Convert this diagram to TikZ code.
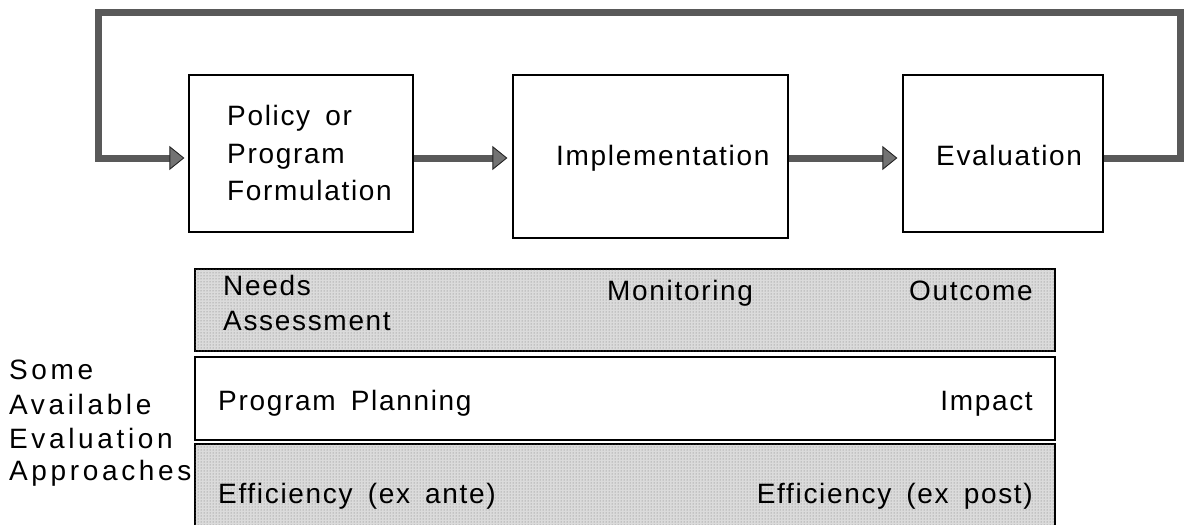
\documentclass[tikz,border=0pt]{standalone}
\usepackage{fontspec}
\setmainfont{Liberation Sans}[LetterSpace=6,WordSpace=1.6]
\newfontfamily\sidefont{Liberation Sans}[LetterSpace=13]
\usetikzlibrary{arrows.meta,patterns}
\begin{document}
\begin{tikzpicture}[x=1pt,y=-1pt,
  box/.style={draw=black, line width=1.2pt, fill=white, inner sep=0pt},
  band/.style={draw=black, line width=1.2pt, inner sep=0pt, minimum width=860pt},
  dotted band/.style={band, fill=black!14, postaction={pattern=dots, pattern color=black!55}},
  txt/.style={font=\fontsize{28}{34}\selectfont, inner sep=0pt},
  side/.style={font=\sidefont\fontsize{28}{34}\selectfont, inner sep=0pt, anchor=base west},
  flow/.style={line width=7pt, draw=black!65, line join=miter,
    -{Triangle[length=15pt,width=24pt,line width=0.9pt,fill=black!55,color=black!85]}}]
\useasboundingbox (0,0) rectangle (1184,525);
% process boxes
\node[box, minimum width=224pt, minimum height=157pt] (b1) at (301,153.5) {};
\node[box, minimum width=275pt, minimum height=163pt] (b2) at (650.5,156.5) {};
\node[box, minimum width=200pt, minimum height=157pt] (b3) at (1003,153.5) {};
\node[txt, anchor=base west] (t1a) at (227,125) {Policy or};
\node[txt, anchor=base west] (t1b) at (227,163) {Program};
\node[txt, anchor=base west] (t1c) at (227,200) {Formulation};
\node[txt, anchor=base west] (t2) at (556,165) {Implementation};
\node[txt, anchor=base west] (t3) at (936,165) {Evaluation};
% connectors
\coordinate (ay) at (0,158);
\coordinate (fbR) at (1180,12);
\coordinate (fbL) at (98,12);
\draw[flow, shorten >=5pt] (b1.east |- ay) -- (b2.west |- ay);
\draw[flow, shorten >=5pt] (b2.east |- ay) -- (b3.west |- ay);
\draw[flow, shorten >=4pt] (b3.east |- ay) -- (fbR |- ay) -- (fbR) -- (fbL) -- (fbL |- ay) -- (b1.west |- ay);
% approach bands
\node[dotted band, minimum height=82pt] (r1) at (625,310) {};
\node[band, minimum height=83pt] (r2) at (625,398.5) {};
\node[dotted band, minimum height=84pt] (r3) at (625,486) {};
\node[txt, anchor=base west] (na) at (223,295) {Needs};
\node[txt, anchor=base west] (nb) at (223,330) {Assessment};
\node[txt, anchor=base west] (mo) at (607,300) {Monitoring};
\node[txt, anchor=base east] (oc) at (1033,300) {Outcome};
\node[txt, anchor=base west] (pp) at (218,410) {Program Planning};
\node[txt, anchor=base east] (im) at (1033,410) {Impact};
\node[txt, anchor=base west] (ea) at (218,503) {Efficiency (ex ante)};
\node[txt, anchor=base east] (ep) at (1033,503) {Efficiency (ex post)};
% side label
\node[side] (s1) at (9,379) {Some};
\node[side] (s2) at (9,414) {Available};
\node[side] (s3) at (9,448) {Evaluation};
\node[side] (s4) at (9,480) {Approaches};
\end{tikzpicture}
\end{document}
